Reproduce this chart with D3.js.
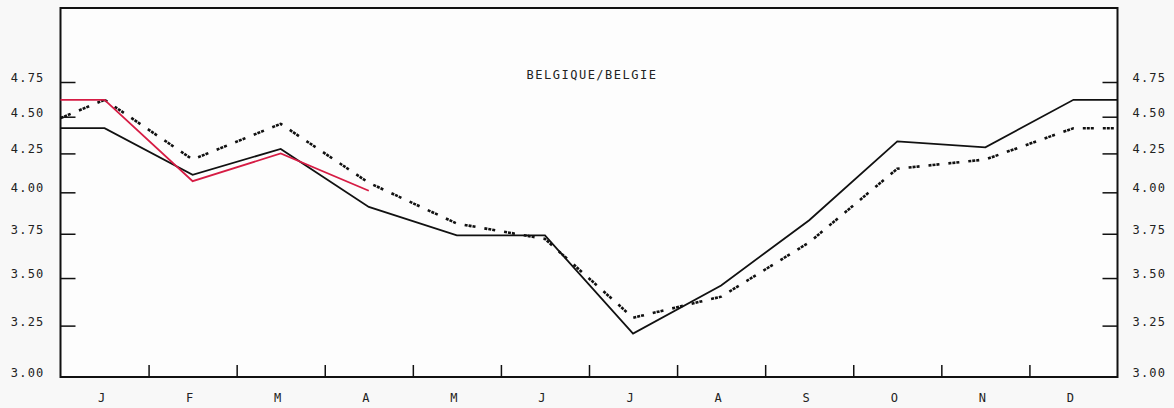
<!DOCTYPE html>
<html>
<head>
<meta charset="utf-8">
<script src="https://cdn.jsdelivr.net/npm/d3@7/dist/d3.min.js"></script>
<style>
  html, body { margin: 0; padding: 0; background: #f8f8f8; }
  svg { display: block; }
  text { font-family: "DejaVu Sans Mono", monospace; fill: #222; }
</style>
</head>
<body>
<svg id="chart" width="1174" height="408"></svg>
<script>
// ---- data ----
const title = "BELGIQUE/BELGIE";
const months = ["J","F","M","A","M","J","J","A","S","O","N","D"];
const yTicks = [3.00, 3.25, 3.50, 3.75, 4.00, 4.25, 4.50, 4.75];

// solid black line (monthly values)
const solidValues = [4.42, 4.11, 4.28, 3.91, 3.74, 3.74, 3.21, 3.46, 3.83, 4.33, 4.29, 4.62];
const solidStart = 4.42;   // value at left frame edge
const solidEnd = 4.62;     // value at right frame edge

// dotted/dashed black line
const dottedValues = [4.62, 4.21, 4.45, 4.06, 3.81, 3.72, 3.29, 3.40, 3.70, 4.15, 4.21, 4.42];
const dottedStart = 4.49;
const dottedEnd = 4.42;

// red line (first months only)
const redValues = [4.62, 4.07, 4.25, 4.01];
const redStart = 4.62;

// ---- layout ----
const svg = d3.select("#chart");
const mLeft = 60.5, mRight = 1117.5, mTop = 8, mBottom = 377;

const x = d3.scaleLinear().domain([-0.5, 11.5]).range([mLeft, mRight]);
const y = d3.scaleLog().domain([3, 4.75]).range([mBottom, 82]);

function series(start, vals, end) {
  const pts = [[-0.5, start]];
  vals.forEach((v, i) => pts.push([i, v]));
  if (end !== undefined) pts.push([11.5, end]);
  return pts;
}

const line = d3.line().x(d => x(d[0])).y(d => y(d[1]));

// frame
svg.append("rect")
  .attr("x", mLeft).attr("y", mTop)
  .attr("width", mRight - mLeft).attr("height", mBottom - mTop)
  .attr("fill", "#fdfdfd").attr("stroke", "#111").attr("stroke-width", 2);

const fmt = d3.format(".2f");

// left axis
const gL = svg.append("g").attr("transform", `translate(${mLeft},0)`)
  .call(d3.axisLeft(y).tickValues(yTicks).tickSize(-15).tickPadding(16).tickFormat(fmt));
gL.select(".domain").remove();
gL.selectAll(".tick line").attr("stroke", "#111").attr("stroke-width", 1.5)
  .filter(d => d === 3).remove();
gL.selectAll(".tick text").attr("font-size", 12).attr("letter-spacing", 1.2)
  .attr("dy", "-0.05em").attr("fill", "#222")
  .style("font-family", "'DejaVu Sans Mono', monospace");

// right axis
const gR = svg.append("g").attr("transform", `translate(${mRight},0)`)
  .call(d3.axisRight(y).tickValues(yTicks).tickSize(-15).tickPadding(15).tickFormat(fmt));
gR.select(".domain").remove();
gR.selectAll(".tick line").attr("stroke", "#111").attr("stroke-width", 1.5)
  .filter(d => d === 3).remove();
gR.selectAll(".tick text").attr("font-size", 12).attr("letter-spacing", 1.2)
  .attr("dy", "-0.05em").attr("fill", "#222")
  .style("font-family", "'DejaVu Sans Mono', monospace");

// bottom month separators
const sepVals = d3.range(0.5, 11, 1);
const gB = svg.append("g").attr("transform", `translate(0,${mBottom})`)
  .call(d3.axisBottom(x).tickValues(sepVals).tickSize(-12).tickFormat(""));
gB.select(".domain").remove();
gB.selectAll(".tick line").attr("stroke", "#111").attr("stroke-width", 1.5);

// month labels
svg.append("g").selectAll("text").data(months).join("text")
  .attr("x", (d, i) => x(i) - 3)
  .attr("y", 402)
  .attr("text-anchor", "middle")
  .attr("font-size", 12)
  .text(d => d);

// title
svg.append("text")
  .attr("x", x(5.5) + 3).attr("y", 79)
  .attr("text-anchor", "middle")
  .attr("font-size", 12).attr("letter-spacing", 1.5)
  .text(title);

// solid line
svg.append("path").datum(series(solidStart, solidValues, solidEnd))
  .attr("d", line).attr("fill", "none").attr("stroke", "#111").attr("stroke-width", 1.8);

// dotted line
svg.append("path").datum(series(dottedStart, dottedValues, dottedEnd))
  .attr("d", line).attr("fill", "none").attr("stroke", "#111").attr("stroke-width", 2.6)
  .attr("stroke-dasharray", "3,1,3,1,3,9");

// red line
svg.append("path").datum(series(redStart, redValues))
  .attr("d", line).attr("fill", "none").attr("stroke", "#d61c44").attr("stroke-width", 1.8);
</script>
</body>
</html>
